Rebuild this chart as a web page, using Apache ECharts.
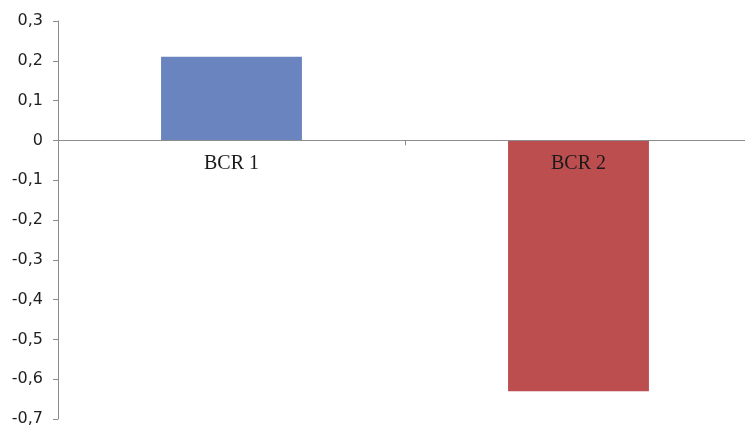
<!DOCTYPE html>
<html>
<head>
<meta charset="utf-8">
<script src="https://cdn.jsdelivr.net/npm/echarts@6/dist/echarts.min.js"></script>
<style>
  html, body { margin: 0; padding: 0; background: #fff; }
  #chart { width: 745px; height: 428px; }
</style>
</head>
<body>
<div id="chart"></div>
<script>
// BCR values per alternative
const categories = ['BCR 1', 'BCR 2'];
const bcrValues = [0.21, -0.63];

// axis range
const yMin = -0.7;
const yMax = 0.3;
const yStep = 0.1;

// bar fills, one per category
const barColors = ['#6a84c0', '#bd4e50'];

const chart = echarts.init(document.getElementById('chart'), null, { renderer: 'canvas' });

chart.setOption({
  animation: false,
  backgroundColor: '#ffffff',
  grid: {
    left: 58, top: 21, width: 694, height: 398,
    containLabel: false,
    outerBoundsMode: 'none'
  },
  xAxis: {
    type: 'category',
    data: categories,
    z: 5,
    axisLine: { onZero: true, lineStyle: { color: '#8c8c8c', width: 1 } },
    axisTick: { show: true, alignWithLabel: false, length: 5, lineStyle: { color: '#8c8c8c' } },
    axisLabel: { show: false },
    splitLine: { show: false }
  },
  yAxis: {
    type: 'value',
    min: yMin,
    max: yMax,
    interval: yStep,
    axisLine: { show: true, lineStyle: { color: '#8c8c8c', width: 1 } },
    axisTick: { show: true, length: 5, lineStyle: { color: '#8c8c8c' } },
    axisLabel: {
      margin: 15,
      fontFamily: 'DejaVu Sans',
      fontSize: 16,
      color: '#1e1e1e',
      formatter: function (v) {
        if (Math.abs(v) < 1e-9) return '0';
        return v.toFixed(1).replace('.', ',');
      }
    },
    splitLine: { show: false }
  },
  series: [
    {
      type: 'bar',
      barWidth: '40.6%',
      z: 2,
      data: bcrValues.map(function (v, i) {
        return { value: v, itemStyle: { color: barColors[i] } };
      })
    },
    {
      // category names sitting just under the zero line, drawn over the bars
      type: 'bar',
      barWidth: '40.6%',
      barGap: '-100%',
      z: 6,
      silent: true,
      itemStyle: { color: 'rgba(0,0,0,0)' },
      label: {
        show: true,
        position: 'bottom',
        distance: 13,
        fontFamily: 'Liberation Serif',
        fontSize: 20,
        color: '#1a1a1a',
        formatter: function (p) { return categories[p.dataIndex]; }
      },
      data: categories.map(function () { return 0; })
    }
  ]
});
</script>
</body>
</html>
